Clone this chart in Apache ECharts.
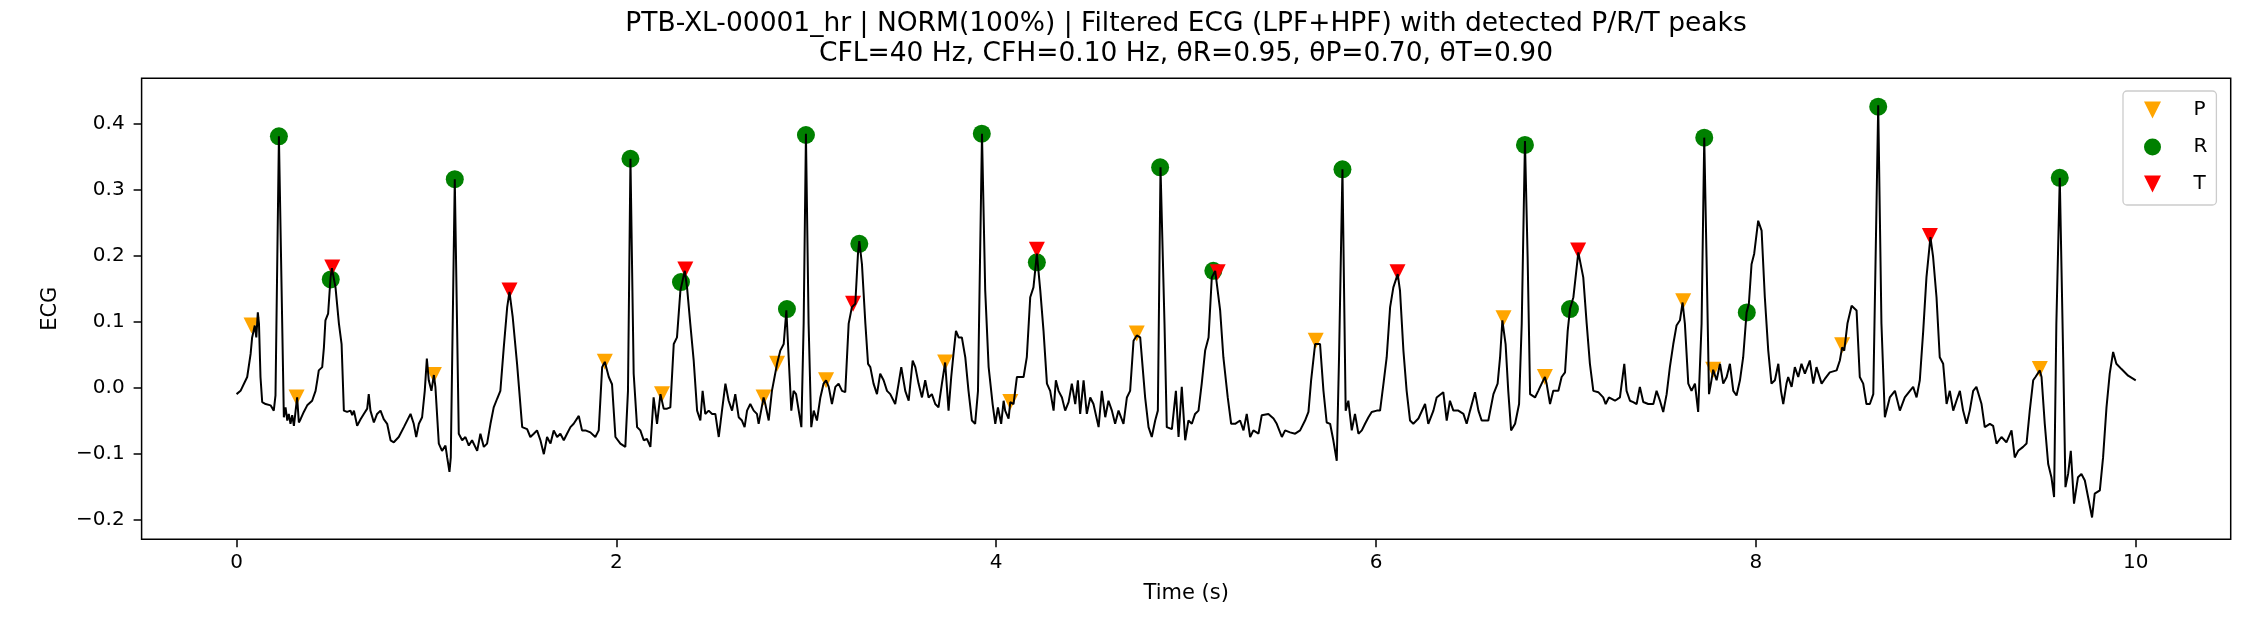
<!DOCTYPE html>
<html>
<head>
<meta charset="utf-8">
<title>PTB-XL-00001_hr filtered ECG</title>
<script src="https://cdn.jsdelivr.net/npm/echarts@6.0.0/dist/echarts.min.js"></script>
<style>
  html, body { margin: 0; padding: 0; background: #fff; }
  #ecg_chart { width: 2242px; height: 630px; }
</style>
</head>
<body>
<div id="ecg_chart"></div>
<script>
/* 滤波后的 ECG 曲线: [时间(s), 幅值] */
const ecgTrace = [
  [0.000,-0.010],[0.021,-0.005],[0.056,0.016],[0.074,0.051],[0.082,0.076],[0.096,0.094],[0.104,0.076],[0.112,0.114],[0.118,0.097],[0.126,0.016],
  [0.135,-0.022],[0.153,-0.025],[0.179,-0.027],[0.196,-0.035],[0.205,-0.012],[0.223,0.381],[0.249,-0.045],[0.258,-0.030],[0.267,-0.050],[0.275,-0.040],
  [0.284,-0.055],[0.293,-0.042],[0.302,-0.058],[0.311,-0.035],[0.319,-0.015],[0.328,-0.053],[0.337,-0.048],[0.354,-0.037],[0.372,-0.027],[0.398,-0.020],
  [0.416,-0.005],[0.425,0.011],[0.433,0.026],[0.451,0.031],[0.460,0.061],[0.468,0.102],[0.482,0.112],[0.495,0.167],[0.502,0.181],[0.521,0.152],
  [0.539,0.097],[0.553,0.066],[0.565,-0.035],[0.582,-0.037],[0.600,-0.035],[0.609,-0.042],[0.618,-0.035],[0.635,-0.058],[0.653,-0.048],[0.670,-0.040],
  [0.688,-0.032],[0.696,-0.010],[0.705,-0.035],[0.723,-0.053],[0.740,-0.040],[0.758,-0.035],[0.775,-0.048],[0.793,-0.055],[0.811,-0.080],[0.828,-0.083],
  [0.854,-0.075],[0.881,-0.060],[0.916,-0.040],[0.933,-0.055],[0.946,-0.075],[0.960,-0.055],[0.977,-0.045],[0.991,-0.005],[1.002,0.044],[1.012,0.011],
  [1.026,-0.005],[1.039,0.019],[1.047,0.001],[1.065,-0.085],[1.082,-0.096],[1.100,-0.088],[1.109,-0.106],[1.121,-0.128],[1.128,-0.106],[1.149,0.316],
  [1.170,-0.070],[1.188,-0.080],[1.205,-0.075],[1.223,-0.088],[1.240,-0.080],[1.267,-0.096],[1.284,-0.070],[1.302,-0.090],[1.319,-0.085],[1.337,-0.055],
  [1.354,-0.030],[1.372,-0.017],[1.389,-0.005],[1.407,0.061],[1.425,0.122],[1.437,0.145],[1.454,0.107],[1.477,0.036],[1.504,-0.060],[1.530,-0.063],
  [1.547,-0.075],[1.565,-0.070],[1.582,-0.065],[1.600,-0.080],[1.618,-0.101],[1.635,-0.075],[1.653,-0.085],[1.670,-0.065],[1.688,-0.075],[1.705,-0.070],
  [1.723,-0.080],[1.740,-0.070],[1.758,-0.060],[1.775,-0.055],[1.802,-0.043],[1.819,-0.065],[1.837,-0.065],[1.863,-0.068],[1.889,-0.075],[1.907,-0.065],
  [1.925,0.031],[1.939,0.039],[1.960,0.016],[1.977,0.005],[1.995,-0.075],[2.021,-0.085],[2.047,-0.090],[2.061,-0.005],[2.074,0.347],[2.091,0.021],
  [2.109,-0.060],[2.126,-0.065],[2.144,-0.080],[2.161,-0.078],[2.179,-0.090],[2.196,-0.015],[2.214,-0.055],[2.232,-0.010],[2.249,-0.032],[2.267,-0.032],
  [2.284,-0.030],[2.302,0.066],[2.319,0.076],[2.337,0.147],[2.360,0.177],[2.372,0.152],[2.389,0.097],[2.407,0.041],[2.425,-0.035],[2.442,-0.050],
  [2.454,-0.005],[2.468,-0.040],[2.486,-0.035],[2.504,-0.040],[2.521,-0.040],[2.539,-0.075],[2.556,-0.035],[2.574,0.006],[2.591,-0.020],[2.609,-0.035],
  [2.626,-0.010],[2.644,-0.045],[2.661,-0.050],[2.675,-0.060],[2.688,-0.035],[2.705,-0.025],[2.723,-0.035],[2.740,-0.040],[2.749,-0.055],[2.775,-0.015],
  [2.784,-0.025],[2.802,-0.050],[2.819,-0.005],[2.846,0.036],[2.863,0.056],[2.881,0.066],[2.895,0.117],[2.907,0.046],[2.921,-0.035],[2.933,-0.005],
  [2.946,-0.010],[2.960,-0.035],[2.974,-0.060],[2.986,0.097],[2.998,0.385],[3.012,0.097],[3.026,-0.060],[3.039,-0.035],[3.056,-0.050],[3.074,-0.015],
  [3.091,0.006],[3.104,0.011],[3.118,0.001],[3.135,-0.025],[3.153,0.001],[3.170,0.006],[3.188,-0.005],[3.205,-0.007],[3.223,0.097],[3.240,0.122],
  [3.258,0.127],[3.272,0.203],[3.279,0.222],[3.293,0.187],[3.311,0.097],[3.325,0.036],[3.337,0.031],[3.354,0.006],[3.372,-0.010],[3.389,0.021],
  [3.407,0.011],[3.425,-0.005],[3.442,-0.010],[3.468,-0.025],[3.486,0.006],[3.500,0.031],[3.521,-0.005],[3.539,-0.020],[3.560,0.041],[3.574,0.031],
  [3.591,0.006],[3.609,-0.015],[3.626,0.011],[3.644,-0.015],[3.661,-0.010],[3.679,-0.025],[3.696,-0.030],[3.714,0.006],[3.731,0.038],[3.749,-0.035],
  [3.763,0.016],[3.775,0.051],[3.788,0.086],[3.802,0.076],[3.819,0.076],[3.837,0.046],[3.854,-0.005],[3.872,-0.050],[3.889,-0.055],[3.904,-0.005],
  [3.925,0.385],[3.942,0.147],[3.960,0.031],[3.981,-0.025],[3.995,-0.055],[4.009,-0.030],[4.026,-0.055],[4.039,-0.020],[4.047,-0.035],[4.065,-0.047],
  [4.074,-0.022],[4.091,-0.025],[4.109,0.016],[4.144,0.016],[4.161,0.046],[4.179,0.137],[4.196,0.152],[4.214,0.203],[4.232,0.147],[4.249,0.086],
  [4.267,0.006],[4.284,-0.005],[4.302,-0.035],[4.314,0.011],[4.328,-0.005],[4.346,-0.015],[4.363,-0.035],[4.381,-0.022],[4.398,0.006],[4.416,-0.025],
  [4.430,0.011],[4.442,-0.040],[4.460,0.011],[4.477,-0.040],[4.495,-0.015],[4.512,-0.025],[4.539,-0.060],[4.556,-0.005],[4.574,-0.045],[4.591,-0.020],
  [4.609,-0.035],[4.626,-0.055],[4.644,-0.035],[4.670,-0.055],[4.688,-0.015],[4.705,-0.005],[4.723,0.071],[4.740,0.079],[4.758,0.076],[4.767,0.074],
  [4.784,-0.015],[4.802,-0.060],[4.819,-0.075],[4.837,-0.050],[4.851,-0.035],[4.865,0.334],[4.886,0.097],[4.898,-0.060],[4.925,-0.063],[4.946,-0.005],
  [4.960,-0.075],[4.977,0.001],[4.995,-0.080],[5.012,-0.050],[5.030,-0.055],[5.047,-0.040],[5.065,-0.035],[5.082,0.006],[5.100,0.056],[5.118,0.076],
  [5.135,0.167],[5.153,0.177],[5.179,0.117],[5.196,0.046],[5.219,-0.015],[5.237,-0.055],[5.258,-0.055],[5.284,-0.050],[5.302,-0.065],[5.319,-0.040],
  [5.337,-0.075],[5.354,-0.065],[5.381,-0.070],[5.398,-0.042],[5.433,-0.040],[5.460,-0.047],[5.477,-0.055],[5.504,-0.075],[5.521,-0.065],[5.547,-0.068],
  [5.574,-0.070],[5.600,-0.065],[5.626,-0.050],[5.644,-0.037],[5.658,0.011],[5.679,0.066],[5.705,0.066],[5.723,-0.005],[5.740,-0.053],[5.758,-0.055],
  [5.775,-0.080],[5.793,-0.111],[5.805,0.046],[5.823,0.331],[5.840,-0.035],[5.854,-0.020],[5.872,-0.065],[5.889,-0.040],[5.907,-0.070],[5.925,-0.065],
  [5.942,-0.055],[5.960,-0.045],[5.977,-0.037],[6.004,-0.035],[6.021,-0.035],[6.039,0.006],[6.056,0.046],[6.074,0.122],[6.091,0.152],[6.114,0.172],
  [6.126,0.147],[6.144,0.056],[6.161,-0.005],[6.179,-0.050],[6.196,-0.055],[6.223,-0.047],[6.258,-0.025],[6.275,-0.055],[6.302,-0.035],[6.319,-0.015],
  [6.354,-0.007],[6.372,-0.050],[6.389,-0.020],[6.407,-0.035],[6.433,-0.035],[6.460,-0.040],[6.477,-0.055],[6.495,-0.035],[6.521,-0.007],[6.539,-0.035],
  [6.556,-0.050],[6.591,-0.050],[6.618,-0.010],[6.640,0.006],[6.653,0.046],[6.665,0.102],[6.682,0.066],[6.696,-0.005],[6.711,-0.065],[6.732,-0.055],
  [6.753,-0.025],[6.767,0.097],[6.784,0.374],[6.798,0.198],[6.811,-0.010],[6.837,-0.015],[6.854,-0.005],[6.872,0.006],[6.889,0.016],[6.898,0.006],
  [6.916,-0.025],[6.933,-0.005],[6.960,-0.005],[6.977,0.016],[6.995,0.023],[7.009,0.086],[7.021,0.119],[7.039,0.137],[7.065,0.205],[7.091,0.167],
  [7.109,0.097],[7.126,0.036],[7.144,-0.005],[7.170,-0.007],[7.196,-0.015],[7.209,-0.025],[7.226,-0.015],[7.258,-0.020],[7.284,-0.015],[7.307,0.036],
  [7.319,-0.005],[7.337,-0.020],[7.354,-0.022],[7.372,-0.025],[7.389,0.001],[7.407,-0.022],[7.433,-0.025],[7.460,-0.025],[7.477,-0.005],[7.495,-0.020],
  [7.512,-0.037],[7.530,-0.010],[7.547,0.031],[7.565,0.066],[7.582,0.094],[7.600,0.102],[7.614,0.129],[7.626,0.097],[7.644,0.006],[7.661,-0.005],
  [7.679,0.006],[7.696,-0.037],[7.714,0.097],[7.728,0.379],[7.740,0.198],[7.753,-0.010],[7.763,0.006],[7.775,0.027],[7.793,0.011],[7.811,0.036],
  [7.828,0.006],[7.846,0.016],[7.863,0.036],[7.881,-0.005],[7.898,-0.012],[7.916,0.011],[7.933,0.046],[7.951,0.114],[7.963,0.127],[7.977,0.187],
  [7.991,0.203],[8.012,0.253],[8.030,0.238],[8.047,0.137],[8.065,0.056],[8.082,0.006],[8.100,0.011],[8.118,0.036],[8.132,-0.005],[8.144,-0.025],
  [8.161,0.006],[8.170,0.016],[8.188,0.001],[8.205,0.031],[8.223,0.016],[8.240,0.036],[8.258,0.021],[8.284,0.041],[8.302,0.006],[8.319,0.031],
  [8.346,0.006],[8.363,0.013],[8.389,0.023],[8.425,0.026],[8.442,0.041],[8.454,0.061],[8.465,0.056],[8.482,0.097],[8.504,0.124],[8.530,0.117],
  [8.547,0.016],[8.565,0.006],[8.582,-0.025],[8.600,-0.025],[8.618,-0.010],[8.644,0.428],[8.661,0.097],[8.679,-0.045],[8.705,-0.015],[8.732,-0.005],
  [8.758,-0.035],[8.784,-0.015],[8.811,-0.005],[8.828,0.001],[8.846,-0.015],[8.863,0.011],[8.881,0.086],[8.898,0.167],[8.919,0.228],[8.933,0.198],
  [8.951,0.137],[8.968,0.046],[8.986,0.036],[9.004,-0.025],[9.021,-0.005],[9.039,-0.035],[9.056,-0.020],[9.074,-0.005],[9.091,-0.035],[9.109,-0.055],
  [9.126,-0.035],[9.144,-0.005],[9.161,0.001],[9.188,-0.025],[9.205,-0.060],[9.232,-0.055],[9.249,-0.058],[9.267,-0.085],[9.293,-0.075],[9.319,-0.083],
  [9.346,-0.065],[9.363,-0.106],[9.381,-0.096],[9.407,-0.090],[9.425,-0.085],[9.442,-0.035],[9.460,0.011],[9.472,0.016],[9.495,0.026],[9.504,0.016],
  [9.521,-0.055],[9.539,-0.116],[9.556,-0.136],[9.570,-0.166],[9.582,0.097],[9.600,0.318],[9.618,0.046],[9.630,-0.151],[9.644,-0.131],[9.658,-0.096],
  [9.675,-0.176],[9.696,-0.136],[9.714,-0.131],[9.732,-0.141],[9.749,-0.166],[9.770,-0.197],[9.784,-0.161],[9.811,-0.156],[9.828,-0.106],[9.846,-0.030],
  [9.863,0.021],[9.881,0.054],[9.898,0.036],[9.925,0.028],[9.960,0.018],[10.000,0.011]
];

/* 检测到的 P / R / T 峰 */
const pPeaks = [
  [0.079,0.094],[0.316,-0.015],[1.039,0.019],[1.939,0.039],[2.240,-0.010],[2.775,-0.015],[2.846,0.036],[3.104,0.011],[3.731,0.038],
  [4.074,-0.022],[4.740,0.082],[5.682,0.071],[6.671,0.105],[6.889,0.016],[7.617,0.131],[7.775,0.027],[8.454,0.064],[9.495,0.028]
];
const rPeaks = [
  [0.223,0.381],[0.496,0.164],[1.149,0.316],[2.074,0.347],[2.340,0.160],[2.898,0.119],[2.998,0.383],[3.279,0.218],[3.924,0.385],[4.214,0.190],
  [4.863,0.334],[5.143,0.177],[5.823,0.331],[6.784,0.368],[7.021,0.119],[7.728,0.379],[7.952,0.114],[8.644,0.426],[9.600,0.318]
];
const tPeaks = [
  [0.504,0.182],[1.437,0.147],[2.363,0.179],[3.246,0.127],[4.214,0.209],[5.166,0.175],[6.113,0.175],[7.064,0.208],[8.916,0.230]
];

const timeTicks = [0, 2, 4, 6, 8, 10];
const ecgTicks = [-0.2, -0.1, 0, 0.1, 0.2, 0.3, 0.4];

const titleText = 'PTB-XL-00001_hr | NORM(100%) | Filtered ECG (LPF+HPF) with detected P/R/T peaks\n' +
  'CFL=40 Hz, CFH=0.10 Hz, \u03b8R=0.95, \u03b8P=0.70, \u03b8T=0.90';

const FONT = 'DejaVu Sans';
const triDown = 'path://M0,0L2,0L1,2Z';

let myEchart = echarts.init(document.getElementById('ecg_chart'), null, { renderer: 'canvas' });
let option = {
  animation: false,
  backgroundColor: '#fff',
  title: {
    text: titleText,
    left: 1186,
    top: 9,
    padding: 0,
    textAlign: 'center',
    textStyle: { fontFamily: FONT, fontSize: 26.5, fontWeight: 'normal', lineHeight: 30, color: '#000' }
  },
  legend: {
    orient: 'vertical',
    left: 2123,
    top: 91,
    padding: [9, 9, 11, 21],
    itemWidth: 20,
    itemHeight: 17,
    itemGap: 17,
    selectedMode: false,
    data: [
      { name: 'P', icon: triDown },
      { name: 'R', icon: 'circle' },
      { name: 'T', icon: triDown }
    ],
    textStyle: { fontFamily: FONT, fontSize: 20, lineHeight: 17, color: '#000', padding: [0, 0, 0, 26] },
    backgroundColor: 'rgba(255,255,255,0.8)',
    borderColor: '#cccccc',
    borderWidth: 1.3,
    borderRadius: 4
  },
  grid: {
    left: 141.6, right: 11.3, top: 78.3, bottom: 90.8,
    show: true, borderColor: '#000', borderWidth: 1.5,
    containLabel: false, outerBoundsMode: 'none'
  },
  xAxis: {
    type: 'value', min: -0.5, max: 10.5,
    name: 'Time (s)', nameLocation: 'middle', nameGap: 44,
    nameTextStyle: { fontFamily: FONT, fontSize: 21, color: '#000' },
    axisLine: { show: false, onZero: false },
    axisTick: { show: true, length: 8, customValues: timeTicks, lineStyle: { color: '#000', width: 1.5 } },
    axisLabel: { customValues: timeTicks, margin: 13.5, fontFamily: FONT, fontSize: 20, color: '#000',
      formatter: v => String(v) },
    splitLine: { show: false }
  },
  yAxis: {
    type: 'value', min: -0.23, max: 0.469,
    name: 'ECG', nameLocation: 'middle', nameGap: 81, nameRotate: 90,
    nameTextStyle: { fontFamily: FONT, fontSize: 21, color: '#000' },
    axisLine: { show: false, onZero: false },
    axisTick: { show: true, length: 8, customValues: ecgTicks, lineStyle: { color: '#000', width: 1.5 } },
    axisLabel: { customValues: ecgTicks, margin: 17, fontFamily: FONT, fontSize: 20, color: '#000',
      formatter: v => v.toFixed(1).replace('-', '\u2212') },
    splitLine: { show: false }
  },
  series: [
    {
      name: 'ECG', type: 'line', data: ecgTrace,
      showSymbol: false, symbol: 'none', silent: true, z: 3,
      lineStyle: { color: '#000', width: 2 }, itemStyle: { color: '#000' }
    },
    {
      name: 'P', type: 'scatter', data: pPeaks, z: 2,
      symbol: triDown, symbolSize: 16, itemStyle: { color: '#FFA500', opacity: 1 }
    },
    {
      name: 'R', type: 'scatter', data: rPeaks, z: 2,
      symbol: 'circle', symbolSize: 18, itemStyle: { color: '#008000', opacity: 1 }
    },
    {
      name: 'T', type: 'scatter', data: tPeaks, z: 2,
      symbol: triDown, symbolSize: 16, itemStyle: { color: '#FF0000', opacity: 1 }
    }
  ]
};
myEchart.setOption(option);
</script>
</body>
</html>
